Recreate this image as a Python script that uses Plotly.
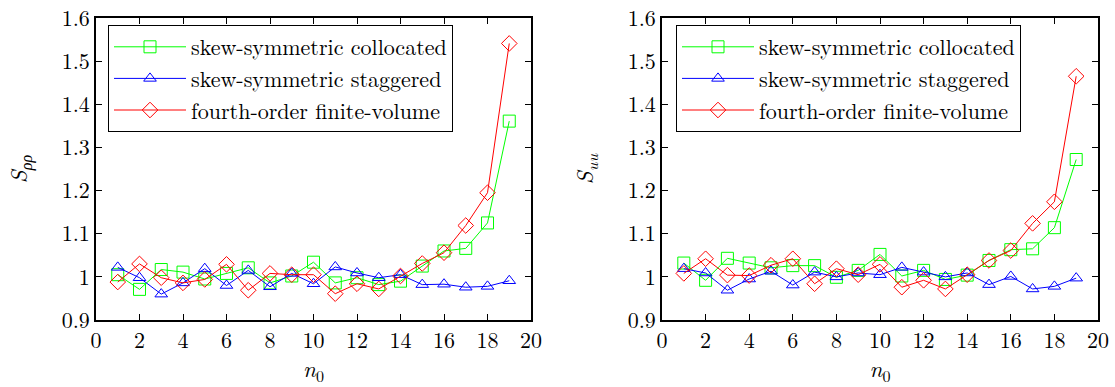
import plotly.graph_objects as go

n = list(range(1, 20))

# Left panel: S_rho_rho
rho_coll = [1.005, 0.971, 1.017, 1.011, 0.995, 1.008, 1.021, 0.986, 1.002, 1.034,
            0.986, 0.998, 0.982, 0.990, 1.025, 1.060, 1.066, 1.125, 1.361]
rho_stag = [1.022, 0.998, 0.960, 0.986, 1.019, 0.980, 1.015, 0.977, 1.008, 0.984,
            1.023, 1.009, 0.998, 1.005, 0.982, 0.983, 0.976, 0.978, 0.991]
rho_fv = [0.988, 1.030, 0.998, 0.986, 0.994, 1.029, 0.969, 1.008, 1.005, 1.005,
          0.961, 0.984, 0.972, 1.002, 1.031, 1.056, 1.119, 1.195, 1.541]

# Right panel: S_uu
uu_coll = [1.032, 0.992, 1.043, 1.032, 1.021, 1.026, 1.026, 0.999, 1.015, 1.052,
           1.002, 1.015, 0.994, 1.004, 1.038, 1.063, 1.065, 1.114, 1.272]
uu_stag = [1.019, 1.009, 0.969, 0.995, 1.013, 0.981, 1.011, 1.000, 1.009, 1.005,
           1.022, 1.011, 1.000, 1.009, 0.982, 1.001, 0.972, 0.978, 0.997]
uu_fv = [1.008, 1.042, 1.004, 1.003, 1.027, 1.042, 0.984, 1.019, 1.005, 1.029,
         0.976, 0.992, 0.972, 1.005, 1.038, 1.061, 1.124, 1.174, 1.465]

names = ["skew-symmetric collocated", "skew-symmetric staggered", "fourth-order finite-volume"]
colors = ["#00ff00", "#0000ff", "#ff0000"]
symbols = ["square-open", "triangle-up-open", "diamond-open"]

x_ticks = list(range(0, 21, 2))
y_ticks = [0.9, 1.0, 1.1, 1.2, 1.3, 1.4, 1.5, 1.6]
y_labels = ["0.9", "1", "1.1", "1.2", "1.3", "1.4", "1.5", "1.6"]

FONT = "Latin Modern Roman"
W, H = 1115, 387
T, B = 18, 67

fig = go.Figure()
panels = [(rho_coll, rho_stag, rho_fv), (uu_coll, uu_stag, uu_fv)]
for p, series in enumerate(panels):
    for k, ys in enumerate(series):
        fig.add_trace(go.Scatter(
            x=n, y=ys, mode="lines+markers", name=names[k],
            line=dict(color=colors[k], width=1),
            marker=dict(symbol=symbols[k], size=12 if k != 1 else 11,
                        color=colors[k], line=dict(width=1, color=colors[k])),
            xaxis="x" if p == 0 else "x2", yaxis="y" if p == 0 else "y2",
            legend="legend" if p == 0 else "legend2",
        ))

axis_common = dict(
    showline=True, linecolor="black", linewidth=1.5, mirror="ticks",
    ticks="inside", ticklen=6, tickcolor="black", tickwidth=1,
    showgrid=False, zeroline=False, automargin=False,
    tickfont=dict(family=FONT, size=22, color="black"),
)

title_font = dict(family=FONT, size=23, color="black")
legend_font = dict(family=FONT, size=22, color="black")
fig.update_layout(
    width=W, height=H,
    margin=dict(l=0, r=0, t=T, b=B, autoexpand=False),
    paper_bgcolor="white", plot_bgcolor="white",
    font=dict(family=FONT, color="black"),
    xaxis=dict(domain=[96 / W, 531 / W], range=[0, 20], tickvals=x_ticks,
               anchor="y",
               title=dict(text="<i>n</i><sub>0</sub>", font=title_font, standoff=12),
               **axis_common),
    yaxis=dict(domain=[0, 1], range=[0.9, 1.6], tickvals=y_ticks, ticktext=y_labels,
               anchor="x",
               title=dict(text="<i>S</i><sub><i>ρρ</i></sub>", font=title_font, standoff=28),
               **axis_common),
    xaxis2=dict(domain=[662 / W, 1098 / W], range=[0, 20], tickvals=x_ticks,
                anchor="y2",
                title=dict(text="<i>n</i><sub>0</sub>", font=title_font, standoff=12),
                **axis_common),
    yaxis2=dict(domain=[0, 1], range=[0.9, 1.6], tickvals=y_ticks, ticktext=y_labels,
                anchor="x2",
                title=dict(text="<i>S</i><sub><i>uu</i></sub>", font=title_font, standoff=28),
                **axis_common),
    legend=dict(x=108 / W, y=1 - (25 - T) / (H - T - B), xanchor="left", yanchor="top",
                bgcolor="white", bordercolor="black", borderwidth=1,
                font=legend_font, tracegroupgap=0, itemwidth=72),
    legend2=dict(x=676 / W, y=1 - (25 - T) / (H - T - B), xanchor="left", yanchor="top",
                 bgcolor="white", bordercolor="black", borderwidth=1,
                 font=legend_font, tracegroupgap=0, itemwidth=72),
)

fig.write_html("out.html")
